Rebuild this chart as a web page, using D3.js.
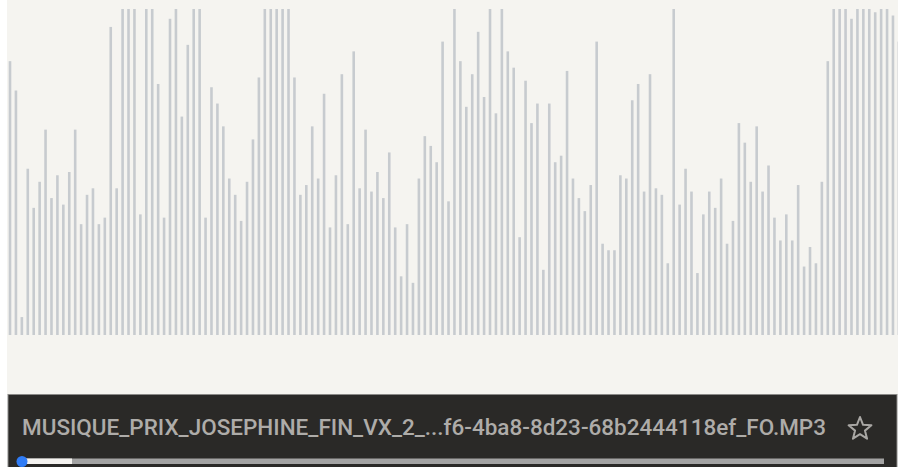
<!DOCTYPE html>
<html>
<head>
<meta charset="utf-8">
<script src="https://cdn.jsdelivr.net/npm/d3@7"></script>
<style>
  html, body { margin: 0; padding: 0; background: #ffffff; }
  svg { display: block; }
</style>
</head>
<body>
<div id="chart"></div>
<script>
// Waveform amplitudes (0-100, values >= 100 are clipped at the top)
const amplitudes = [
  84, 75, 5.5, 51, 39, 47, 63, 42, 49, 40,
  50, 63, 34, 43, 45, 34, 36, 94.5, 45, 100,
  100, 100, 37, 100, 100, 77, 36, 97, 100, 67,
  89, 100, 100, 36, 76, 71, 64, 48, 43, 35,
  47, 60, 79, 100, 100, 100, 100, 100, 79, 43,
  46, 64, 48, 74, 33, 49, 80, 34, 87, 45,
  63, 44, 50, 42, 56, 33, 18, 34, 16, 48,
  61, 58, 53, 90, 41, 100, 84, 70, 80, 93,
  73, 100, 68, 100, 87, 82, 30, 78, 65, 71,
  20, 71, 53, 55, 81, 48, 42, 38, 46, 90,
  28, 26, 26, 49, 48, 72, 77, 44, 80, 45,
  43, 22, 100, 40, 51, 44, 19, 37, 44, 39,
  48, 28, 35, 65, 59, 47, 64, 44, 52, 36,
  29, 37, 29, 46, 21, 27, 22, 47, 84, 100,
  100, 100, 97, 100, 100, 100, 99, 100, 100, 98,
  90
];
const fileName = "MUSIQUE_PRIX_JOSEPHINE_FIN_VX_2_...f6-4ba8-8d23-68b2444118ef_FO.MP3";
const progress = [0, 0.058]; // played fraction, buffered fraction

const W = 898, H = 467;
const svg = d3.select("#chart").append("svg").attr("width", W).attr("height", H);

// beige waveform area
svg.append("rect").attr("x", 7).attr("y", 0).attr("width", W - 7).attr("height", 395).attr("fill", "#f5f4f0");

svg.append("defs").append("clipPath").attr("id", "wclip")
  .append("rect").attr("x", 7).attr("y", 9).attr("width", W - 7).attr("height", 326);

const step = 5.926;
const x = d3.scaleBand()
  .domain(d3.range(amplitudes.length))
  .range([10 - step / 2, 10 - step / 2 + step * amplitudes.length])
  .padding(0);
const y = d3.scaleLinear().domain([0, 100]).range([335, 9]).clamp(true);

const barW = 2.6;
svg.append("g").attr("clip-path", "url(#wclip)")
  .selectAll("rect").data(amplitudes).join("rect")
  .attr("x", (d, i) => x(i) + x.bandwidth() / 2 - barW / 2)
  .attr("y", d => y(d))
  .attr("width", barW)
  .attr("height", d => 335 - y(d))
  .attr("fill", "#c7cbcf");

// player panel
svg.append("rect").attr("x", 8).attr("y", 394.5).attr("width", 889).attr("height", 80)
  .attr("fill", "#2a2927").attr("stroke", "#8a8987").attr("stroke-width", 1);

svg.append("text")
  .attr("x", 22).attr("y", 435)
  .attr("font-family", "Roboto, 'Noto Sans', sans-serif")
  .attr("font-size", 21.5)
  .attr("font-weight", 500)
  .attr("textLength", 804)
  .attr("lengthAdjust", "spacingAndGlyphs")
  .attr("fill", "#aeacA9")
  .text(fileName);

// star icon
const starR = 12, starr = 5.2, cx = 860, cy = 429;
const starPts = d3.range(10).map(k => {
  const r = k % 2 === 0 ? starR : starr;
  const a = -Math.PI / 2 + k * Math.PI / 5;
  return [cx + r * Math.cos(a), cy + r * Math.sin(a)];
});
svg.append("path").attr("d", d3.line()(starPts) + "Z")
  .attr("fill", "none").attr("stroke", "#a9a7a4").attr("stroke-width", 2).attr("stroke-linejoin", "round");

// progress bar
const px = d3.scaleLinear().domain([0, 1]).range([22, 884]);
svg.append("rect").attr("x", px(0)).attr("y", 458.5).attr("width", px(1) - px(0)).attr("height", 5.5).attr("fill", "#a3a3a3");
svg.append("rect").attr("x", px(0)).attr("y", 458.5).attr("width", px(progress[1]) - px(0)).attr("height", 5.5).attr("fill", "#f4f2ef");
svg.append("circle").attr("cx", px(progress[0])).attr("cy", 461.5).attr("r", 5.5).attr("fill", "#2f7cf6");
</script>
</body>
</html>
